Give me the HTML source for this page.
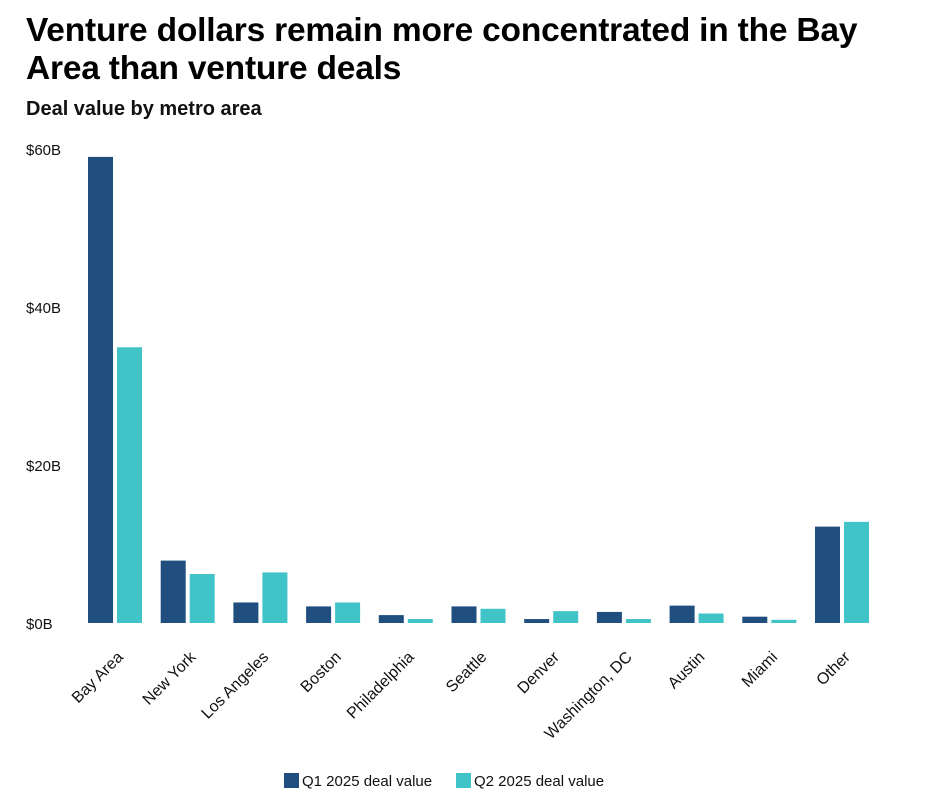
<!DOCTYPE html>
<html><head><meta charset="utf-8"><style>
body{margin:0;background:#fff;font-family:"Liberation Sans",sans-serif;}
#wrap{position:relative;width:934px;height:798px;overflow:hidden;}
h1{position:absolute;left:26px;top:12px;margin:0;font-size:33.5px;line-height:38px;font-weight:bold;color:#000;width:890px;letter-spacing:-0.2px;}
h2{position:absolute;left:26px;top:98px;margin:0;font-size:20px;font-weight:bold;color:#111;}
svg{position:absolute;left:0;top:0;}
</style></head><body>
<div id="wrap">
<h1>Venture dollars remain more concentrated in the Bay Area than venture deals</h1>
<h2>Deal value by metro area</h2>
<svg id="chart" width="934" height="798"></svg>
</div>
<script>
const categories=["Bay Area","New York","Los Angeles","Boston","Philadelphia","Seattle","Denver","Washington, DC","Austin","Miami","Other"];
const q1Values=[59.0,7.9,2.6,2.1,1.0,2.1,0.5,1.4,2.2,0.8,12.2];
const q2Values=[34.9,6.2,6.4,2.6,0.5,1.8,1.5,0.5,1.2,0.4,12.8];
const yTicks=[0,20,40,60];
const yTickLabels=["$0B","$20B","$40B","$60B"];
const seriesNames=["Q1 2025 deal value","Q2 2025 deal value"];
const colors=["#1f4e7f","#40c4c8"];
const svg=document.getElementById('chart');
const NS="http://www.w3.org/2000/svg";
const y0=623,pxPer=7.9;
const y=v=>y0-v*pxPer;
const x=i=>88+i*72.7;
function mk(t,a){const e=document.createElementNS(NS,t);for(const k in a)e.setAttribute(k,a[k]);svg.appendChild(e);return e;}
yTicks.forEach((t,i)=>{
 const e=mk('text',{x:26,y:y(t)+6,'font-size':15,fill:'#111'});
 e.textContent=yTickLabels[i];
 
 
});
categories.forEach((c,i)=>{
 const b1=mk('rect',{x:x(i),y:y(q1Values[i]),width:25,height:q1Values[i]*pxPer,fill:colors[0]});
 
 
 const b2=mk('rect',{x:x(i)+29,y:y(q2Values[i]),width:25,height:q2Values[i]*pxPer,fill:colors[1]});
 
 
 const cx=x(i)+36,cy=658;
 const t=mk('text',{x:cx,y:cy,'font-size':16,fill:'#111','text-anchor':'end',transform:`rotate(-45 ${cx} ${cy})`});
 t.textContent=c;
 
 
});
let lx=284;
seriesNames.forEach((s,i)=>{
 const r=mk('rect',{x:lx,y:773,width:15,height:15,fill:colors[i]});
 
 
 const t=mk('text',{x:lx+18,y:786,'font-size':15,fill:'#111'});
 t.textContent=s;
 
 
 lx+=172;
});
</script>
</body></html>
